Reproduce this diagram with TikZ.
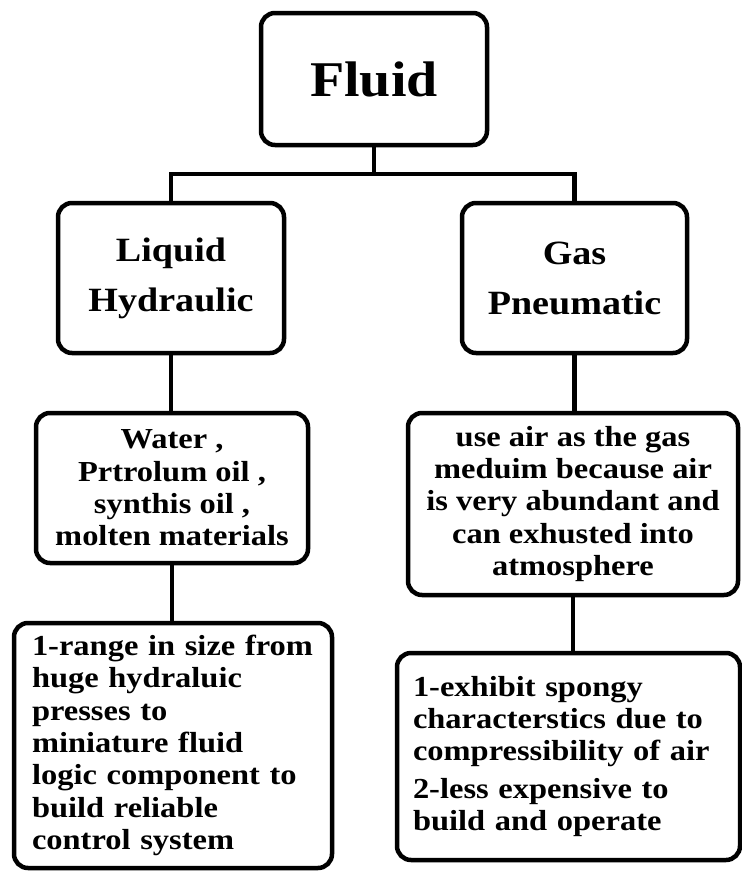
\documentclass[tikz,border=0pt]{standalone}
\usepackage{fontspec}
\setmainfont{Liberation Serif}[FakeStretch=1.12]
\begin{document}
\begin{tikzpicture}[x=1pt,y=-1pt,
  box/.style={draw, line width=4.5pt, rounded corners=14pt, fill=white, inner sep=0pt},
  title/.style={font=\bfseries\fontsize{50}{56}\selectfont},
  head/.style={align=center, font=\bfseries\fontsize{34}{50}\selectfont},
  body/.style={font=\bfseries\fontsize{29}{32.3}\selectfont},
  conn/.style={line width=4.5pt}]
\useasboundingbox (0,0) rectangle (742,871);
\node[box, title, minimum width=226pt, minimum height=132pt] (fluid) at (374,79) {Fluid};
\node[box, head, minimum width=226pt, minimum height=150pt] (liquid) at (171,278) {Liquid\\Hydraulic};
\node[box, head, minimum width=225pt, minimum height=150pt] (gas) at (574.5,278) {Gas\\Pneumatic};
\node[box, body, align=center, minimum width=272pt, minimum height=150pt] (water) at (172,488)
  {Water ,\\Prtrolum oil ,\\synthis oil ,\\molten materials};
\node[box, body, align=center, minimum width=330pt, minimum height=182pt] (air) at (573,504)
  {use air as the gas\\meduim because air\\is very abundant and\\can exhusted into\\atmosphere};
\node[box, body, align=left, text width=282pt, minimum width=318pt, minimum height=245pt] (range) at (173,745.5)
  {1-range in size from\\huge hydraluic\\presses to\\miniature fluid\\logic component to\\build reliable\\control system};
\node[box, body, align=left, text width=311pt, minimum width=343pt, minimum height=207pt] (spongy) at (568.5,756.5)
  {1-exhibit spongy\\characterstics due to\\compressibility of air\\[5pt]2-less expensive to\\build and operate};
\coordinate (j) at (374,174);
\draw[conn] (fluid.south) -- (j);
\draw[conn] (liquid.north) |- (j) -| (gas.north);
\draw[conn] (liquid.south) -- (liquid.south |- water.north);
\draw[conn] (water.south) -- (water.south |- range.north);
\draw[conn] (gas.south) -- (gas.south |- air.north);
\draw[conn] (air.south) -- (air.south |- spongy.north);
\end{tikzpicture}
\end{document}
